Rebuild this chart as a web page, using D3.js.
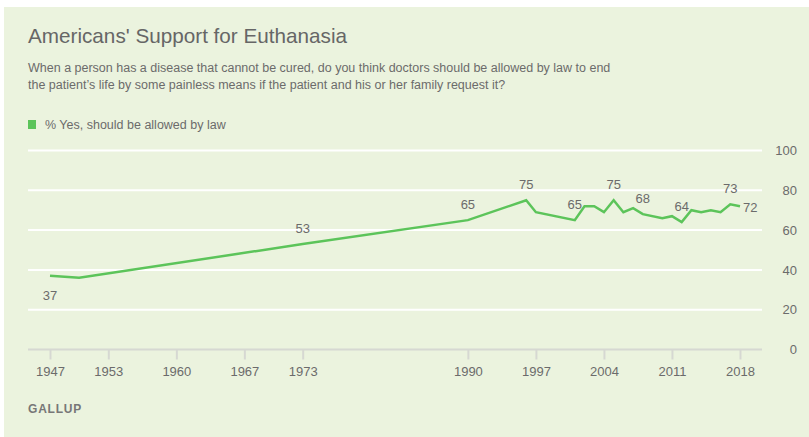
<!DOCTYPE html>
<html>
<head>
<meta charset="utf-8">
<script src="https://cdn.jsdelivr.net/npm/d3@7"></script>
<style>
  html, body { margin: 0; padding: 0; background: #ffffff; }
  svg { display: block; }
  text { font-family: "Liberation Sans", Arial, sans-serif; }
</style>
</head>
<body>
<svg id="chart" width="809" height="437"></svg>
<script>
// ---- Data ----
const years  = [1947, 1950, 1973, 1990, 1996, 1997, 2001, 2002, 2003, 2004, 2005, 2006, 2007, 2008, 2010, 2011, 2012, 2013, 2014, 2015, 2016, 2017, 2018];
const values = [37,   36,   53,   65,   75,   69,   65,   72,   72,   69,   75,   69,   71,   68,   66,   67,   64,   70,   69,   70,   69,   73,   72];
const xTickYears = [1947, 1953, 1960, 1967, 1973, 1990, 1997, 2004, 2011, 2018];
const yTickValues = [0, 20, 40, 60, 80, 100];
const labelAbove = [1973, 1990, 1996, 2001, 2005, 2008, 2012, 2017];
const labelBelow = [1947];
const labelRight = [2018];
const seriesName = "% Yes, should be allowed by law";
const title = "Americans' Support for Euthanasia";
const subtitle = [
  "When a person has a disease that cannot be cured, do you think doctors should be allowed by law to end",
  "the patient\u2019s life by some painless means if the patient and his or her family request it?"
];
const source = "GALLUP";

// ---- Layout ----
const svg = d3.select("#chart");
const green = "#5cc45a";
const textGrey = "#6b6b6b";

svg.append("rect").attr("x", 4).attr("y", 7).attr("width", 805).attr("height", 430).attr("fill", "#ebf3de");

const x = d3.scaleLinear().domain([1947, 2018]).range([50, 740]);
const y = d3.scaleLinear().domain([0, 100]).range([349.5, 150.5]);
const gridLeft = 28, gridRight = 762;

// Title & subtitle
svg.append("text").attr("x", 28).attr("y", 43).attr("fill", "#666").attr("font-size", 20.7).text(title);
subtitle.forEach((s, i) => {
  svg.append("text").attr("x", 28).attr("y", 72 + i * 17).attr("fill", textGrey).attr("font-size", 12.5).text(s);
});

// Legend
svg.append("rect").attr("x", 28).attr("y", 120).attr("width", 8).attr("height", 9).attr("fill", green);
svg.append("text").attr("x", 45).attr("y", 128.5).attr("fill", textGrey).attr("font-size", 12.5).text(seriesName);

// Gridlines
svg.append("g").selectAll("line").data(yTickValues.filter(v => v > 0)).join("line")
  .attr("x1", gridLeft).attr("x2", gridRight)
  .attr("y1", d => y(d)).attr("y2", d => y(d))
  .attr("stroke", "#ffffff").attr("stroke-width", 2);

// Y axis (right side labels)
const yAxis = d3.axisRight(y).tickValues(yTickValues).tickSize(0).tickPadding(0);
const gy = svg.append("g").attr("transform", `translate(797,0)`).call(yAxis);
gy.select(".domain").remove();
gy.selectAll("text").attr("text-anchor", "end").attr("fill", textGrey)
  .attr("font-size", 13).attr("font-family", "Liberation Sans, Arial, sans-serif");

// X axis
const xAxis = d3.axisBottom(x).tickValues(xTickYears).tickFormat(d3.format("d")).tickSize(10).tickPadding(7);
const gx = svg.append("g").attr("transform", `translate(0,${y(0)})`).call(xAxis);
gx.select(".domain").attr("d", `M${gridLeft},0H${gridRight}`).attr("stroke", "#d6d8d2").attr("stroke-width", 2);
gx.selectAll(".tick line").attr("stroke", "#d6d8d2").attr("stroke-width", 2);
gx.selectAll("text").attr("fill", textGrey).attr("font-size", 13).attr("font-family", "Liberation Sans, Arial, sans-serif");

// Line
const data = years.map((yr, i) => ({ year: yr, value: values[i] }));
svg.append("path").datum(data)
  .attr("d", d3.line().x(d => x(d.year)).y(d => y(d.value)))
  .attr("fill", "none").attr("stroke", green).attr("stroke-width", 2.5)
  .attr("stroke-linejoin", "miter");

// Data labels
const lbl = svg.append("g").attr("fill", textGrey).attr("font-size", 13);
data.forEach(d => {
  if (labelAbove.includes(d.year)) {
    lbl.append("text").attr("x", x(d.year)).attr("y", y(d.value) - 11).attr("text-anchor", "middle").text(d.value);
  } else if (labelBelow.includes(d.year)) {
    lbl.append("text").attr("x", x(d.year)).attr("y", y(d.value) + 24).attr("text-anchor", "middle").text(d.value);
  } else if (labelRight.includes(d.year)) {
    lbl.append("text").attr("x", x(d.year) + 3).attr("y", y(d.value) + 6).attr("text-anchor", "start").text(d.value);
  }
});

// Source
svg.append("text").attr("x", 28).attr("y", 413).attr("fill", "#777").attr("font-size", 12)
  .attr("font-weight", "bold").attr("letter-spacing", 0.8).text(source);
</script>
</body>
</html>
